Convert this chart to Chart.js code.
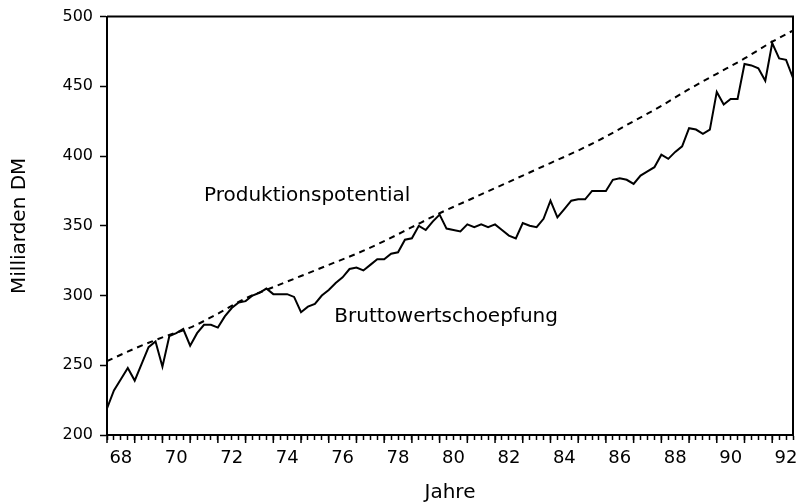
<!DOCTYPE html>
<html><head><meta charset="utf-8">
<script src="https://cdn.jsdelivr.net/npm/chart.js@4.4.0/dist/chart.umd.min.js"></script>
<style>html,body{margin:0;padding:0;background:#fff;}#wrap{width:801px;height:503px;position:relative;}</style>
</head><body><div id="wrap"><canvas id="c"></canvas></div>
<script>
// Quarterly series, first value = 1968 Q1 (index 0)
const startYear = 1968;
const bruttowertschoepfung = [
 219,232,240,248, 239,251,263,267, 249,271,273,276, 264,273,279,279,
 277,285,291,295, 296,300,302,305, 301,301,301,299, 288,292,294,300,
 304,309,313,319, 320,318,322,326, 326,330,331,340, 341,350,347,353,
 358,348,347,346, 351,349,351,349, 351,347,343,341, 352,350,349,355,
 368,356,362,368, 369,369,375,375, 375,383,384,383, 380,386,389,392,
 401,398,403,407, 420,419,416,419, 446,437,441,441, 466,465,463,454,
 481,470,469,456
];
// Produktionspotential (smooth trend), read at year starts
const potentialYears = [1968,1969,1970,1971,1972,1973,1974,1975,1976,1977,1978,1979,1980,1981,1982,1983,1984,1985,1986,1987,1988,1989,1990,1991,1992,1992.75];
const potentialValues = [253,262,270,277,287,298,306,314,322,330,339,349,359,368,377,386,395,404,414,425,436,448,459,470,482,490];
const yTickValues = [200,250,300,350,400,450,500];
const xLabelYears = [68,70,72,74,76,78,80,82,84,86,88,90,92];
const labelTexts = [
  {text:'Produktionspotential', year:1971.5, value:368},
  {text:'Bruttowertschoepfung', year:1976.2, value:281}
];

const q = y => (y - startYear) * 4;
const bwsData = bruttowertschoepfung.map((v,i)=>({x:i,y:v}));
const potData = potentialYears.map((y,i)=>({x:q(y),y:potentialValues[i]}));
const labelIdx = new Set(xLabelYears.map(y => q(1900 + y + 0.5)));

const frame = {
  id:'frame',
  afterDatasetsDraw(chart){
    const {ctx, chartArea:a, scales:{x,y}} = chart;
    ctx.save();
    ctx.strokeStyle='#000'; ctx.lineWidth=2;
    ctx.beginPath();
    ctx.moveTo(a.left,a.top); ctx.lineTo(a.right,a.top); ctx.lineTo(a.right,a.bottom);
    ctx.stroke();
    // longer year ticks
    ctx.lineWidth=1.5;
    for(let i=0;i<bruttowertschoepfung.length;i+=4){
      const px=x.getPixelForValue(i);
      ctx.beginPath(); ctx.moveTo(px,a.bottom); ctx.lineTo(px,a.bottom+8); ctx.stroke();
    }
    ctx.fillStyle='#000';
    ctx.font='20px "DejaVu Sans"';
    ctx.textAlign='left'; ctx.textBaseline='alphabetic';
    labelTexts.forEach(l=>{
      ctx.fillText(l.text, x.getPixelForValue(q(l.year)), y.getPixelForValue(l.value));
    });
    ctx.restore();
  }
};

new Chart(document.getElementById('c'), {
  type:'line',
  data:{datasets:[
    {label:'Bruttowertschoepfung', data:bwsData, borderColor:'#000', borderWidth:2, pointRadius:0, tension:0, fill:false},
    {label:'Produktionspotential', data:potData, borderColor:'#000', borderWidth:2, borderDash:[6,5], pointRadius:0, tension:0.4, cubicInterpolationMode:'monotone', fill:false}
  ]},
  options:{
    responsive:true, maintainAspectRatio:false, animation:false,
    layout:{padding:{top:15,right:4,left:0,bottom:0}},
    plugins:{legend:{display:false}, tooltip:{enabled:false}},
    scales:{
      x:{type:'linear', min:0, max:bruttowertschoepfung.length-1,
        afterFit:s=>{s.height=68;},
        afterBuildTicks:s=>{s.ticks=bruttowertschoepfung.map((v,i)=>({value:i}));},
        grid:{drawOnChartArea:false, drawTicks:true, tickLength:5, tickColor:'#000', tickWidth:1.5},
        border:{display:true, color:'#000', width:2},
        ticks:{autoSkip:false, maxRotation:0, padding:8, color:'#000', font:{family:'DejaVu Sans', size:18},
          callback:(v)=> labelIdx.has(v) ? String(68 + (v-2)/4) : ''},
        title:{display:true, text:'Jahre', color:'#000', font:{family:'DejaVu Sans', size:20, lineHeight:1}, padding:{top:0,bottom:0}}
      },
      y:{type:'linear', min:200, max:500,
        afterFit:s=>{s.width=107;},
        afterBuildTicks:s=>{s.ticks=yTickValues.map(v=>({value:v}));},
        grid:{drawOnChartArea:false, drawTicks:true, tickLength:7, tickColor:'#000', tickWidth:1.5},
        border:{display:true, color:'#000', width:2},
        ticks:{padding:7, color:'#000', font:{family:'DejaVu Sans', size:16}},
        title:{display:true, text:'Milliarden DM', color:'#000', font:{family:'DejaVu Sans', size:20, lineHeight:1}, padding:{top:10,bottom:0}}
      }
    }
  },
  plugins:[frame]
});
</script></body></html>
